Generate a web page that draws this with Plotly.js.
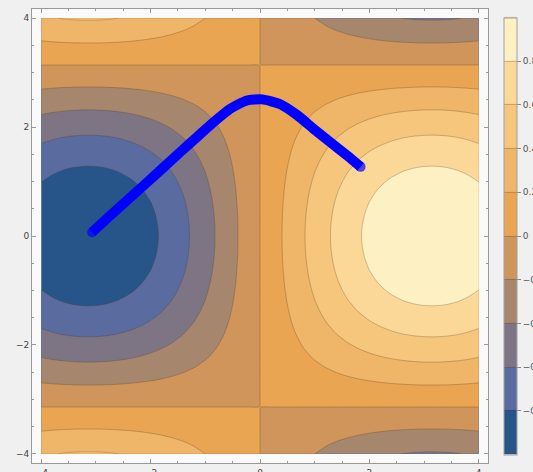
<!DOCTYPE html>
<html>
<head>
<meta charset="utf-8">
<script src="https://cdn.plot.ly/plotly-3.0.1.min.js"></script>
<style>
html,body{margin:0;padding:0;background:#f0f0f0;}
#chart{width:533px;height:472px;}
</style>
</head>
<body>
<div id="chart"></div>
<script>
// Grid coordinates (step 0.2, with extra samples hugging the zero lines)
const gridX = [-4,-3.8,-3.6,-3.4,-3.2,-3,-2.8,-2.6,-2.4,-2.2,-2,-1.8,-1.6,-1.4,-1.2,-1,-0.8,-0.6,-0.4,-0.2,-0.02,0.02,0.2,0.4,0.6,0.8,1,1.2,1.4,1.6,1.8,2,2.2,2.4,2.6,2.8,3,3.2,3.4,3.6,3.8,4];
const gridY = [-4,-3.8,-3.6,-3.4,-3.2,-3.16,-3.12,-3,-2.8,-2.6,-2.4,-2.2,-2,-1.8,-1.6,-1.4,-1.2,-1,-0.8,-0.6,-0.4,-0.2,0,0.2,0.4,0.6,0.8,1,1.2,1.4,1.6,1.8,2,2.2,2.4,2.6,2.8,3,3.12,3.16,3.2,3.4,3.6,3.8,4];
// Field profile along x (sign change at x=0, extremes ±1 near x=±3.1)
const profileX = [-0.9093,-0.9463,-0.9738,-0.9917,-0.9996,-0.9975,-0.9854,-0.9636,-0.9320,-0.8912,-0.8415,-0.7833,-0.7174,-0.6442,-0.5646,-0.4794,-0.3894,-0.2955,-0.1987,-0.0998,-0.0100,0.0100,0.0998,0.1987,0.2955,0.3894,0.4794,0.5646,0.6442,0.7174,0.7833,0.8415,0.8912,0.9320,0.9636,0.9854,0.9975,0.9996,0.9917,0.9738,0.9463,0.9093];
// Field profile along y (1 at y=0, sign change near y=±3.14)
const profileY = [-0.4161,-0.3233,-0.2272,-0.1288,-0.0292,-0.0092,0.0108,0.0707,0.1700,0.2675,0.3624,0.4536,0.5403,0.6216,0.6967,0.7648,0.8253,0.8776,0.9211,0.9553,0.9801,0.9950,1,0.9950,0.9801,0.9553,0.9211,0.8776,0.8253,0.7648,0.6967,0.6216,0.5403,0.4536,0.3624,0.2675,0.1700,0.0707,0.0108,-0.0092,-0.0292,-0.1288,-0.2272,-0.3233,-0.4161];
// Path points (blue curve)
const pathX = [-3.07,-2.68,-2.07,-1.46,-1.15,-0.85,-0.54,-0.24,0.04,0.37,0.68,0.98,1.29,1.59,1.84];
const pathY = [0.07,0.43,0.98,1.54,1.82,2.09,2.34,2.49,2.51,2.42,2.22,1.97,1.72,1.48,1.27];
// Colorbar ticks
const cbTicks = [-0.8,-0.6,-0.4,-0.2,0,0.2,0.4,0.6,0.8];
const axisTicks = [-4,-2,0,2,4];

const bandColors = ['#27558a','#5a6b9f','#7e7584','#a6876d','#cf955b','#e9a552','#efb568','#f6c67c','#fcd898','#fdf1c3'];
const cscale = [];
bandColors.forEach((c,i)=>{cscale.push([i/10,c]);cscale.push([(i+1)/10,c]);});

const z = profileY.map(py => profileX.map(px => px*py));
const endSizes = pathX.map((v,i)=> (i===0 || i===pathX.length-1) ? 10 : 0);

const traces = [
  {
    type:'contour', x:gridX, y:gridY, z:z,
    zmin:-1, zmax:1, autocontour:false,
    contours:{start:-1, end:1, size:0.2, coloring:'fill', showlines:true},
    line:{color:'rgba(80,55,30,0.35)', width:0.8, smoothing:0.6},
    colorscale:cscale,
    colorbar:{
      x:1.036, xanchor:'left', xpad:0, y:0.5, yanchor:'middle', len:0.963, lenmode:'fraction', ypad:0,
      thickness:13, outlinecolor:'#a0a0a0', outlinewidth:1,
      tickvals:cbTicks, ticks:'outside', ticklen:4, tickcolor:'#888',
      tickfont:{family:'DejaVu Sans, sans-serif', size:9, color:'#555'}
    },
    hoverinfo:'skip'
  },
  {
    type:'scatter', mode:'lines+markers', x:pathX, y:pathY,
    line:{color:'#0000ff', width:10, shape:'spline', smoothing:0.6},
    marker:{color:'#0000ff', size:endSizes, line:{width:0}},
    showlegend:false
  }
];

const axisCommon = {
  range:[-4.17,4.17], tickvals:axisTicks, ticks:'inside', ticklen:4, tickcolor:'#999',
  showline:true, linecolor:'#999', linewidth:1, mirror:'allticks', showgrid:false, zeroline:false,
  minor:{dtick:0.5, tick0:0, ticks:'inside', ticklen:2, tickcolor:'#999', showgrid:false},
  tickfont:{family:'DejaVu Sans, sans-serif', size:9, color:'#444'},
  automargin:false
};

const layout = {
  width:533, height:472,
  margin:{l:32, r:45, t:9, b:9, pad:0, autoexpand:false},
  paper_bgcolor:'#f0f0f0', plot_bgcolor:'#fafafa',
  showlegend:false,
  xaxis:Object.assign({}, axisCommon, {ticklabelstandoff:1}),
  yaxis:Object.assign({}, axisCommon)
};

Plotly.newPlot('chart', traces, layout, {displayModeBar:false, staticPlot:true});
</script>
</body>
</html>
